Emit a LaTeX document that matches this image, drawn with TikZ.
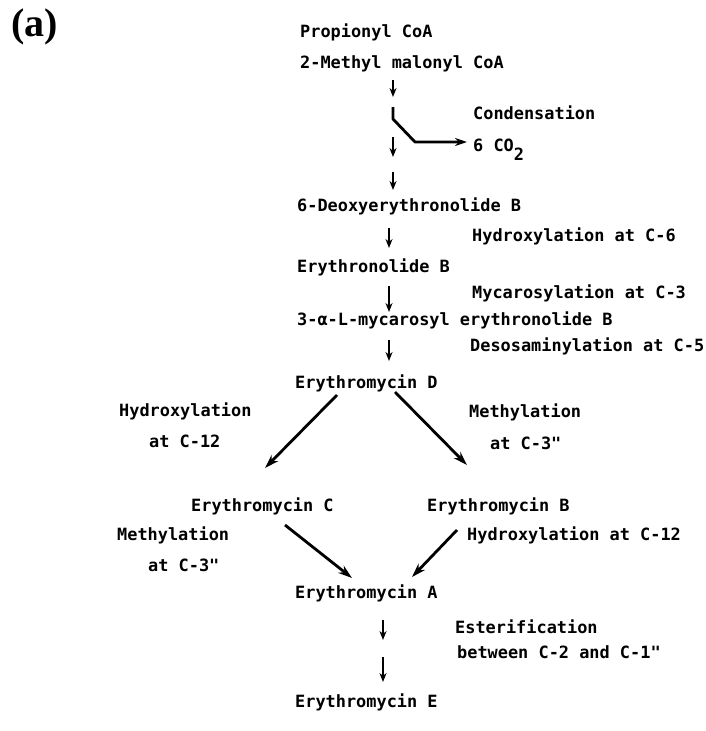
\documentclass[tikz,border=0pt]{standalone}
\usepackage{fontspec}
\newfontfamily\pathfont{DejaVu Sans Mono}
\newfontfamily\panelfont{Liberation Serif}
\usetikzlibrary{arrows.meta}
\begin{document}
\begin{tikzpicture}[x=1pt,y=-1pt,
  lbl/.style={anchor=base west, inner sep=0pt,
    font=\pathfont\bfseries\fontsize{16.9}{17}\selectfont},
  stepline/.style={line width=2.2pt, -{Stealth[length=9pt,width=7pt]}},
  branchline/.style={line width=2.8pt, line join=round, -{Stealth[length=12pt,width=8pt]}},
  diag/.style={line width=2.8pt, -{Stealth[length=14pt,width=9pt]}}]
\useasboundingbox (0,0) rectangle (706,731);

% panel label
\node[anchor=base west, inner sep=0pt, font=\panelfont\bfseries\fontsize{40}{40}\selectfont]
  (panel) at (11,36) {(a)};

% compounds
\node[lbl] (prop)   at (300,37)  {Propionyl CoA};
\node[lbl] (mmal)   at (300,68)  {2-Methyl malonyl CoA};
\node[lbl] (deb)    at (297,211) {6-Deoxyerythronolide B};
\node[lbl] (eb)     at (297,272) {Erythronolide B};
\node[lbl] (myc)    at (297,325) {3-α-L-mycarosyl erythronolide B};
\node[lbl] (eryD)   at (295,388) {Erythromycin D};
\node[lbl] (eryC)   at (191,511) {Erythromycin C};
\node[lbl] (eryB)   at (427,511) {Erythromycin B};
\node[lbl] (eryA)   at (295,598) {Erythromycin A};
\node[lbl] (eryE)   at (295,707) {Erythromycin E};
\node[lbl] (co2)    at (473,151) {6 CO\raisebox{-9pt}{2}};

% reaction labels
\node[lbl] (cond)   at (473,119) {Condensation};
\node[lbl] (hyd6)   at (472,241) {Hydroxylation at C-6};
\node[lbl] (myc3)   at (472,298) {Mycarosylation at C-3};
\node[lbl] (des5)   at (470,351) {Desosaminylation at C-5};
\node[lbl] (hydL1)  at (119,416) {Hydroxylation};
\node[lbl] (hydL2)  at (149,447) {at C-12};
\node[lbl] (metR1)  at (469,417) {Methylation};
\node[lbl] (metR2)  at (490,449) {at C-3"};
\node[lbl] (metL1)  at (117,540) {Methylation};
\node[lbl] (metL2)  at (148,571) {at C-3"};
\node[lbl] (hydR)   at (467,540) {Hydroxylation at C-12};
\node[lbl] (est1)   at (455,633) {Esterification};
\node[lbl] (est2)   at (457,658) {between C-2 and C-1"};

% arrow end points
\coordinate (c1a) at (393,80);  \coordinate (c1b) at (393,97);
\coordinate (c2a) at (393,107); \coordinate (c2k) at (393,119);
\coordinate (c2m) at (415,142); \coordinate (c2b) at (467,142);
\coordinate (c3a) at (393,137); \coordinate (c3b) at (393,157);
\coordinate (c4a) at (393,172); \coordinate (c4b) at (393,190);
\coordinate (s1a) at (389,228); \coordinate (s1b) at (389,248);
\coordinate (s2a) at (389,286); \coordinate (s2b) at (389,312);
\coordinate (s3a) at (389,340); \coordinate (s3b) at (389,361);
\coordinate (dLa) at (337,395); \coordinate (dLb) at (265,468);
\coordinate (dRa) at (395,392); \coordinate (dRb) at (467,465);
\coordinate (cAa) at (285,525); \coordinate (cAb) at (352,578);
\coordinate (bAa) at (457,530); \coordinate (bAb) at (412,577);
\coordinate (e1a) at (383,620); \coordinate (e1b) at (383,640);
\coordinate (e2a) at (383,657); \coordinate (e2b) at (383,682);

% chain assembly
\draw[stepline] (c1a) -- (c1b);
\draw[branchline] (c2a) -- (c2k) -- (c2m) -- (c2b);
\draw[stepline] (c3a) -- (c3b);
\draw[stepline] (c4a) -- (c4b);

% tailoring steps
\draw[stepline] (s1a) -- (s1b);
\draw[stepline] (s2a) -- (s2b);
\draw[stepline] (s3a) -- (s3b);
\draw[diag] (dLa) -- (dLb);
\draw[diag] (dRa) -- (dRb);
\draw[diag] (cAa) -- (cAb);
\draw[diag] (bAa) -- (bAb);
\draw[stepline] (e1a) -- (e1b);
\draw[stepline] (e2a) -- (e2b);
\end{tikzpicture}
\end{document}
